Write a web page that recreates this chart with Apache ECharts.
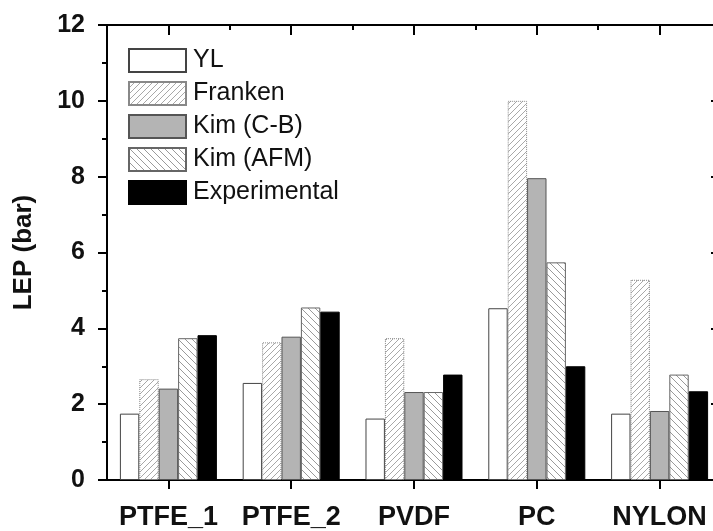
<!DOCTYPE html>
<html>
<head>
<meta charset="utf-8">
<script src="https://cdn.jsdelivr.net/npm/echarts@6/dist/echarts.min.js"></script>
<style>
  html, body { margin: 0; padding: 0; background: #fff; overflow: hidden; }
  /* canvas is a little wider than the window so the right-hand frame sits just past the edge */
  #chart { width: 730px; height: 531px; }
</style>
</head>
<body>
<div id="chart"></div>
<script>
// Liquid entry pressure per membrane: models vs. experiment
const categories   = ['PTFE_1', 'PTFE_2', 'PVDF', 'PC', 'NYLON'];
const seriesNames  = ['YL', 'Franken', 'Kim (C-B)', 'Kim (AFM)', 'Experimental'];
const yl           = [1.75, 2.56, 1.62, 4.53, 1.75];
const franken      = [2.66, 3.63, 3.74, 10.0, 5.28];
const kimCB        = [2.41, 3.78, 2.32, 7.96, 1.82];
const kimAFM       = [3.74, 4.55, 2.32, 5.74, 2.78];
const experimental = [3.82, 4.44, 2.78, 3.00, 2.34];
const yTicks       = [0, 2, 4, 6, 8, 10, 12];

const FONT = "'Liberation Sans', Arial, sans-serif";

// Tick scale in half-bands: even steps are category boundaries, odd steps are centres
const halfBands = categories.length * 2;

// Diagonal hatch tile: dir 1 = "/", dir -1 = "\"
function hatch(dir, lineColor, size, bg) {
  const c = document.createElement('canvas');
  c.width = size; c.height = size;
  const g = c.getContext('2d');
  g.fillStyle = bg;
  g.fillRect(0, 0, size, size);
  g.strokeStyle = lineColor;
  g.lineWidth = 1;
  g.beginPath();
  for (let k = -1; k <= 1; k++) {
    if (dir > 0) {
      g.moveTo(k * size, size);
      g.lineTo(k * size + size, 0);
    } else {
      g.moveTo(k * size, 0);
      g.lineTo(k * size + size, size);
    }
  }
  g.stroke();
  return { image: c, repeat: 'repeat' };
}

const styles = [
  { color: '#ffffff', borderColor: '#444', borderWidth: 1 },
  { color: hatch(1, '#a8a8a8', 6, '#ffffff'), borderColor: '#888', borderWidth: 1, borderType: 'dotted' },
  { color: '#b4b4b4', borderColor: '#555', borderWidth: 1 },
  { color: hatch(-1, '#9a9a9a', 7, '#ffffff'), borderColor: '#666', borderWidth: 1 },
  { color: '#000000', borderColor: '#000', borderWidth: 1 }
];
const values = [yl, franken, kimCB, kimAFM, experimental];

const chart = echarts.init(document.getElementById('chart'));

chart.setOption({
  animation: false,
  backgroundColor: '#fff',
  grid: { left: 107, top: 25, right: 9, height: 456 },
  legend: {
    orient: 'vertical',
    left: 123,
    top: 43,
    itemWidth: 57,
    itemHeight: 23,
    itemGap: 8,
    icon: 'rect',
    data: seriesNames,
    textStyle: { fontFamily: FONT, fontSize: 25, color: '#111', padding: [0, 0, 0, 2] }
  },
  xAxis: [
    {
      // categories and their labels
      type: 'category',
      position: 'bottom',
      data: categories,
      axisLine: { show: true, lineStyle: { color: '#000', width: 2 } },
      axisTick: { show: false },
      axisLabel: { interval: 0, fontFamily: FONT, fontSize: 27, fontWeight: 'bold', color: '#111', margin: 24 }
    },
    {
      // outward ticks under each category centre
      type: 'value',
      position: 'bottom',
      min: 0,
      max: halfBands,
      interval: 2,
      axisLine: { show: false, onZero: false },
      axisTick: { show: false, inside: false },
      minorTick: { show: true, splitNumber: 2, length: 9, lineStyle: { color: '#000', width: 2 } },
      axisLabel: { show: false },
      splitLine: { show: false }
    },
    {
      // top frame: short inward ticks at boundaries, long ones at centres
      type: 'value',
      position: 'top',
      min: 0,
      max: halfBands,
      interval: 2,
      axisLine: { show: true, onZero: false, lineStyle: { color: '#000', width: 2 } },
      axisTick: { show: true, inside: true, length: 5, lineStyle: { color: '#000', width: 2 } },
      minorTick: { show: true, splitNumber: 2, length: 10, lineStyle: { color: '#000', width: 2 } },
      axisLabel: { show: false },
      splitLine: { show: false }
    }
  ],
  yAxis: [
    {
      type: 'value',
      min: yTicks[0],
      max: yTicks[yTicks.length - 1],
      interval: 2,
      name: 'LEP (bar)',
      nameLocation: 'middle',
      nameGap: 70,
      nameTextStyle: { fontFamily: FONT, fontSize: 26, fontWeight: 'bold', color: '#111' },
      axisLine: { show: true, lineStyle: { color: '#000', width: 2 } },
      axisTick: { show: true, length: 9, lineStyle: { color: '#000', width: 2 } },
      minorTick: { show: true, splitNumber: 2, length: 5, lineStyle: { color: '#000', width: 2 } },
      splitLine: { show: false },
      axisLabel: { fontFamily: FONT, fontSize: 25, fontWeight: 'bold', color: '#111', margin: 22 }
    },
    {
      type: 'value',
      position: 'right',
      min: yTicks[0],
      max: yTicks[yTicks.length - 1],
      interval: 2,
      axisLine: { show: true, onZero: false, lineStyle: { color: '#000', width: 2 } },
      axisTick: { show: true, inside: true, length: 10, lineStyle: { color: '#000', width: 2 } },
      minorTick: { show: true, splitNumber: 2, length: 5, lineStyle: { color: '#000', width: 2 } },
      splitLine: { show: false },
      axisLabel: { show: false }
    }
  ],
  series: seriesNames.map((name, i) => ({
    name: name,
    type: 'bar',
    xAxisIndex: 0,
    yAxisIndex: 0,
    barGap: '0%',
    barCategoryGap: '21%',
    itemStyle: styles[i],
    emphasis: { disabled: true },
    data: values[i]
  }))
});
</script>
</body>
</html>
